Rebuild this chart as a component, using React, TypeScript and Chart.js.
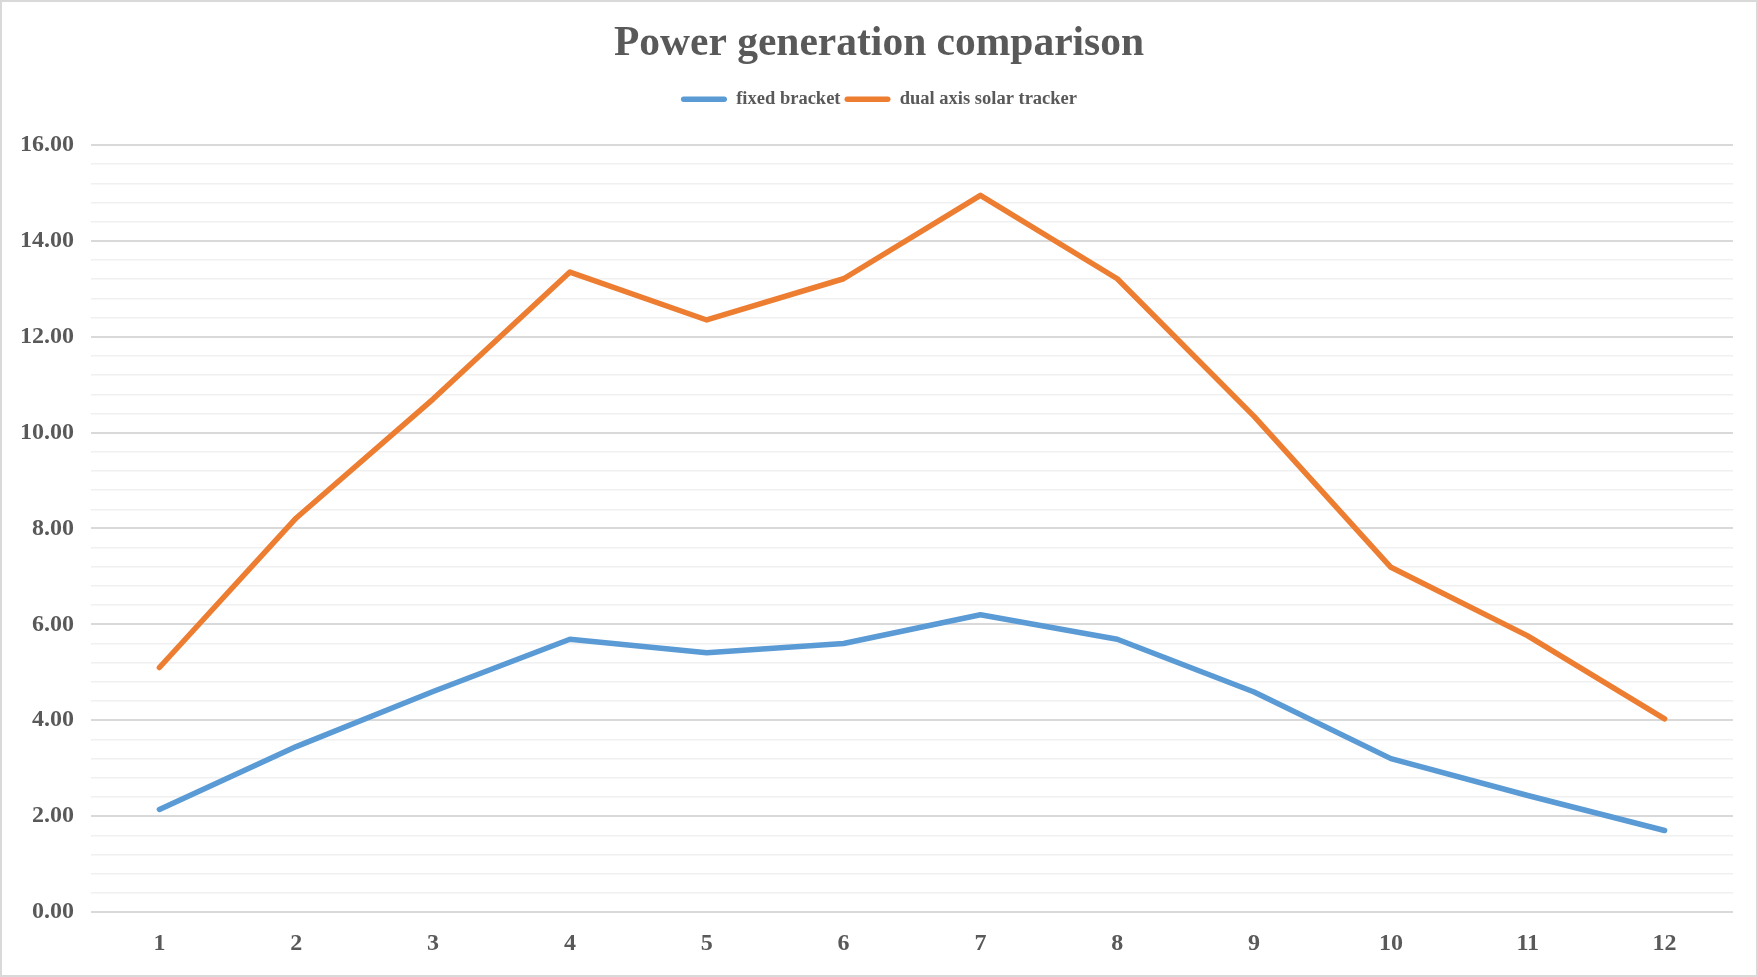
import React, { useEffect, useRef } from "react";
import { Chart, registerables } from "chart.js";

Chart.register(...registerables);

const categories = ["1", "2", "3", "4", "5", "6", "7", "8", "9", "10", "11", "12"];
const fixedBracket = [2.14, 3.45, 4.6, 5.69, 5.41, 5.6, 6.2, 5.69, 4.59, 3.2, 2.43, 1.7];
const dualAxisTracker = [5.1, 8.22, 10.7, 13.35, 12.35, 13.21, 14.95, 13.21, 10.34, 7.19, 5.76, 4.03];
const seriesNames = ["fixed bracket", "dual axis solar tracker"];
const titleText = "Power generation comparison";

const FONT = "'Liberation Serif', 'Times New Roman', serif";
const TEXT = "#595959";
const BLUE = "#5b9bd5";
const ORANGE = "#ed7d31";

export default function App() {
  const ref = useRef<HTMLCanvasElement | null>(null);

  useEffect(() => {
    if (!ref.current) return;
    const isMajor = (v: number) => Math.abs(v / 2 - Math.round(v / 2)) < 1e-6;
    const chart = new Chart(ref.current, {
      type: "line",
      data: {
        labels: categories,
        datasets: [
          {
            label: seriesNames[0],
            data: fixedBracket,
            borderColor: BLUE,
            backgroundColor: BLUE,
            borderWidth: 5.5,
            pointRadius: 0,
            tension: 0,
            borderCapStyle: "round",
            borderJoinStyle: "round",
            yAxisID: "y",
          },
          {
            label: seriesNames[1],
            data: dualAxisTracker,
            borderColor: ORANGE,
            backgroundColor: ORANGE,
            borderWidth: 5.5,
            pointRadius: 0,
            tension: 0,
            borderCapStyle: "round",
            borderJoinStyle: "round",
            yAxisID: "y",
          },
        ],
      },
      options: {
        animation: false,
        responsive: true,
        maintainAspectRatio: false,
        layout: { padding: { left: 0, right: 0, top: 0, bottom: 0 } },
        plugins: {
          tooltip: { enabled: false },
          title: {
            display: true,
            text: titleText,
            color: TEXT,
            font: { family: FONT, size: 41.5, weight: "bold", lineHeight: "50px" },
            padding: { top: 17, bottom: 17 },
          },
          legend: {
            display: true,
            position: "top",
            labels: {
              color: TEXT,
              font: { family: FONT, size: 18.5, weight: "bold" },
              boxWidth: 46,
              boxHeight: 5.5,
              padding: 4,
              useBorderRadius: true,
              borderRadius: 2.75,
              generateLabels: (c: any) => {
                const items = Chart.defaults.plugins.legend.labels.generateLabels(c);
                return items.map((it: any) => ({ ...it, lineWidth: 0, fillStyle: it.strokeStyle }));
              },
            },
          },
        },
        scales: {
          x: {
            offset: true,
            grid: { display: false, drawTicks: false },
            border: { display: false },
            ticks: {
              color: TEXT,
              font: { family: FONT, size: 24, weight: "bold" },
              padding: 17,
              maxRotation: 0,
              autoSkip: false,
            },
            afterFit: (s: any) => {
              s.height = 63;
            },
          },
          y: {
            position: "left",
            min: 0,
            max: 16.5528,
            border: { display: false },
            grid: {
              drawTicks: false,
              color: (ctx: any) => {
                const v = ctx.tick ? ctx.tick.value : 0;
                if (v > 16.001) return "rgba(0,0,0,0)";
                return isMajor(v) ? "#d9d9d9" : "#f0f0f0";
              },
              lineWidth: (ctx: any) => {
                const v = ctx.tick ? ctx.tick.value : 0;
                return isMajor(v) ? 2 : 1.5;
              },
            },
            ticks: {
              stepSize: 0.4,
              maxTicksLimit: 100,
              includeBounds: false,
              autoSkip: false,
              color: TEXT,
              font: { family: FONT, size: 24, weight: "bold" },
              padding: 17,
              callback: (v: any) => {
                const n = Number(v);
                if (n > 16.001) return "";
                return isMajor(n) ? n.toFixed(2) : "";
              },
            },
            afterFit: (s: any) => {
              s.width = 89;
            },
          },
          yRight: {
            position: "right",
            display: true,
            min: 0,
            max: 16.5528,
            border: { display: false },
            grid: { display: false, drawTicks: false },
            ticks: { display: false },
            afterFit: (s: any) => {
              s.width = 23;
            },
          },
        },
      },
    });
    return () => chart.destroy();
  }, []);

  return (
    <div
      style={{
        position: "absolute",
        left: 0,
        top: 0,
        width: 1758,
        height: 977,
        boxSizing: "border-box",
        border: "2px solid #d9d9d9",
        background: "#ffffff",
      }}
    >
      <canvas ref={ref} />
    </div>
  );
}
